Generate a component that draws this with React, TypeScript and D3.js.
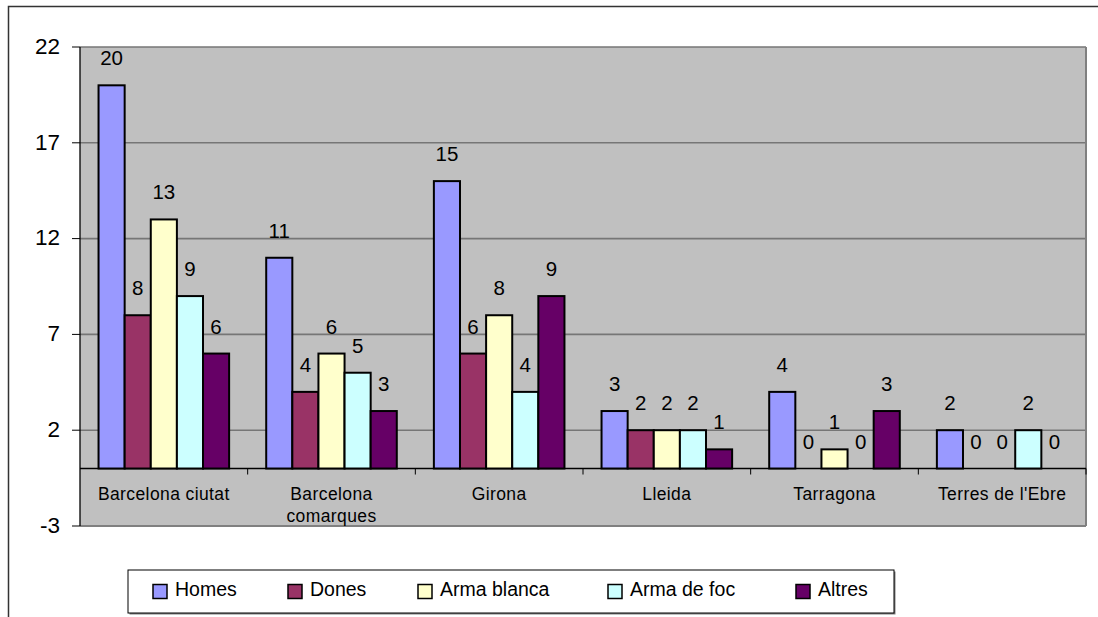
import React from "react";
import * as d3 from "d3";

const categories = ["Barcelona ciutat", "Barcelona comarques", "Girona", "Lleida", "Tarragona", "Terres de l'Ebre"];
const seriesNames = ["Homes", "Dones", "Arma blanca", "Arma de foc", "Altres"];
const homes = [20, 11, 15, 3, 4, 2];
const dones = [8, 4, 6, 2, 0, 0];
const armaBlanca = [13, 6, 8, 2, 1, 0];
const armaDeFoc = [9, 5, 4, 2, 0, 2];
const altres = [6, 3, 9, 1, 3, 0];
const yTicks = [-3, 2, 7, 12, 17, 22];

const seriesValues = [homes, dones, armaBlanca, armaDeFoc, altres];
const colors = ["#9999FF", "#993366", "#FFFFCC", "#CCFFFF", "#660066"];

const W = 1098;
const H = 617;
const FONT = "'Liberation Sans', Arial, sans-serif";
const plot = { left: 80, right: 1086, top: 47, bottom: 526 };
const legendBox = { x: 128, y: 570, w: 766, h: 43 };
const legendOffsets = [25, 160, 290, 480, 668];

function measure(text: string, size: number): number {
  if (typeof document === "undefined") return text.length * size * 0.5;
  const c = document.createElement("canvas").getContext("2d");
  if (!c) return text.length * size * 0.5;
  c.font = `${size}px 'Liberation Sans', Arial`;
  return c.measureText(text).width;
}

export default function App() {
  const x0 = d3.scaleBand<string>().domain(categories).range([plot.left, plot.right]).paddingInner(0).paddingOuter(0);
  const x1 = d3.scaleBand<string>().domain(seriesNames).range([0, x0.bandwidth()]).paddingInner(0).paddingOuter(0.71);
  const y = d3.scaleLinear().domain([-3, 22]).range([plot.bottom, plot.top]);

  const catFont = 17.5;

  return (
    <svg width={W} height={H} style={{ position: "absolute", left: 0, top: 0, background: "#fff" }} fontFamily={FONT}>
      {/* outer frame */}
      <path d={`M8.5,${H + 5} V6.5 H${W + 5}`} fill="none" stroke="#333" strokeWidth={1.5} />

      {/* plot area */}
      <rect x={plot.left} y={plot.top} width={plot.right - plot.left} height={plot.bottom - plot.top} fill="#C0C0C0" />

      {/* gridlines */}
      {yTicks.filter((t) => t !== -3).map((t) => (
        <line key={"g" + t} x1={plot.left} x2={plot.right} y1={y(t)} y2={y(t)} stroke="#767676" strokeWidth={1.6} />
      ))}
      <line x1={plot.left} x2={plot.right} y1={plot.bottom} y2={plot.bottom} stroke="#808080" strokeWidth={2} />
      <line x1={plot.right} x2={plot.right} y1={plot.top} y2={plot.bottom} stroke="#808080" strokeWidth={2} />

      {/* zero line */}
      <line x1={plot.left} x2={plot.right} y1={y(0)} y2={y(0)} stroke="#000" strokeWidth={1.3} />

      {/* category ticks on zero line */}
      {categories.map((c) => {
        const xx = (x0(c) as number) + x0.bandwidth();
        return <line key={"ct" + c} x1={xx} x2={xx} y1={y(0)} y2={y(0) + 6} stroke="#000" strokeWidth={1} />;
      })}

      {/* y axis */}
      <line x1={plot.left} x2={plot.left} y1={plot.top} y2={plot.bottom} stroke="#000" strokeWidth={1.3} />
      {yTicks.map((t) => (
        <g key={"yt" + t}>
          <line x1={plot.left - 8} x2={plot.left} y1={y(t)} y2={y(t)} stroke="#000" strokeWidth={1} />
          <text x={60} y={y(t)} dy="0.3em" textAnchor="end" fontSize={22.5} fill="#000">{t}</text>
        </g>
      ))}

      {/* bars */}
      {categories.map((c, ci) => (
        <g key={"grp" + c} transform={`translate(${x0(c)},0)`}>
          {seriesNames.map((s, si) => {
            const v = seriesValues[si][ci];
            const bx = x1(s) as number;
            const top = y(Math.max(v, 0));
            const h = Math.abs(y(v) - y(0));
            return (
              <g key={s}>
                {v !== 0 && (
                  <rect x={bx} y={top} width={x1.bandwidth()} height={h} fill={colors[si]} stroke="#000" strokeWidth={2} />
                )}
                <text x={bx + x1.bandwidth() / 2} y={top - 20} textAnchor="middle" fontSize={20.5} fill="#000">{v}</text>
              </g>
            );
          })}
        </g>
      ))}

      {/* category labels */}
      {categories.map((c) => {
        const cx = (x0(c) as number) + x0.bandwidth() / 2;
        const wdt = measure(c, catFont);
        let lines = [c];
        if (wdt > x0.bandwidth() - 4) {
          const idx = c.lastIndexOf(" ");
          lines = [c.slice(0, idx), c.slice(idx + 1)];
        }
        return (
          <text key={"cl" + c} x={cx} y={500} textAnchor="middle" fontSize={catFont} fill="#000" letterSpacing={0.4}>
            {lines.map((l, li) => (
              <tspan key={li} x={cx} dy={li === 0 ? 0 : 22}>{l}</tspan>
            ))}
          </text>
        );
      })}

      {/* legend */}
      <rect x={legendBox.x + 1.5} y={legendBox.y + 1.5} width={legendBox.w} height={legendBox.h} fill="#808080" />
      <rect x={legendBox.x} y={legendBox.y} width={legendBox.w} height={legendBox.h} fill="#fff" stroke="#000" strokeWidth={1} />
      {seriesNames.map((s, i) => {
        const lx = legendBox.x + legendOffsets[i];
        return (
          <g key={"lg" + s}>
            <rect x={lx} y={legendBox.y + 14.5} width={14} height={14} fill={colors[i]} stroke="#000" strokeWidth={1.5} />
            <text x={lx + 22} y={legendBox.y + 26} fontSize={19.5} fill="#000">{s}</text>
          </g>
        );
      })}
    </svg>
  );
}
